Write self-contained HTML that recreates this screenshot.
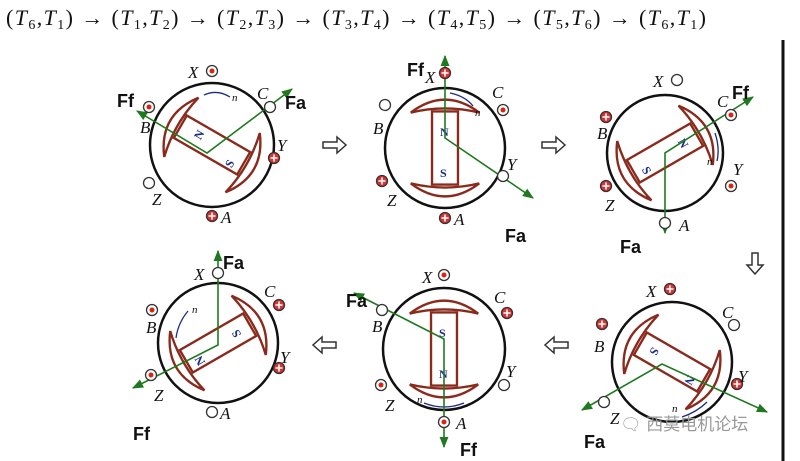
<!DOCTYPE html>
<html><head><meta charset="utf-8"><style>
html,body{margin:0;padding:0;background:#fff;}
svg{display:block;}
.lb{font-family:"Liberation Serif",serif;font-style:italic;font-size:17px;fill:#111;}
.F{font-family:"Liberation Sans",sans-serif;font-weight:bold;font-size:18px;fill:#111;}
.ns{font-family:"Liberation Serif",serif;font-weight:bold;font-size:12px;fill:#1a2a8a;}
.n{font-family:"Liberation Serif",serif;font-style:italic;font-size:11px;fill:#111;}
</style></head><body>
<svg width="800" height="461" viewBox="0 0 800 461" xmlns="http://www.w3.org/2000/svg">
<defs>
<marker id="ar" viewBox="0 0 10 10" refX="9" refY="5" markerWidth="7" markerHeight="7" orient="auto-start-reverse"><path d="M0,1 L10,5 L0,9 Z" fill="#1f7a1f"/></marker>
<g id="rotor0" fill="#fff" stroke="#8a2a1c" stroke-width="2">
<rect x="-11" y="-31" width="22" height="62"/>
<path d="M-29,-30 Q0,-52 29,-30 Q0,-37 -29,-30 Z"/>
<path d="M-29,30 Q0,52 29,30 Q0,37 -29,30 Z"/>
</g>
<g id="rotor"><use href="#rotor0" transform="scale(1.18)"/></g>
<g id="dot"><circle r="5.5" fill="#fff" stroke="#333" stroke-width="1.3"/><circle r="2.5" fill="#d21"/></g>
<g id="crs"><circle r="5.5" fill="#d33" stroke="#333" stroke-width="1.3"/><path d="M-3.5,0H3.5M0,-3.5V3.5" stroke="#fff" stroke-width="1.6"/></g>
<g id="emp"><circle r="5.5" fill="#fff" stroke="#333" stroke-width="1.3"/></g>
</defs>

<text x="6" y="25" textLength="700" lengthAdjust="spacing" style="font-family:'Liberation Serif',serif;font-size:22px;fill:#111">(<tspan font-style="italic">T</tspan><tspan font-size="14" dy="4">6</tspan><tspan dy="-4">,</tspan><tspan font-style="italic">T</tspan><tspan font-size="14" dy="4">1</tspan><tspan dy="-4">) → (</tspan><tspan font-style="italic">T</tspan><tspan font-size="14" dy="4">1</tspan><tspan dy="-4">,</tspan><tspan font-style="italic">T</tspan><tspan font-size="14" dy="4">2</tspan><tspan dy="-4">) → (</tspan><tspan font-style="italic">T</tspan><tspan font-size="14" dy="4">2</tspan><tspan dy="-4">,</tspan><tspan font-style="italic">T</tspan><tspan font-size="14" dy="4">3</tspan><tspan dy="-4">) → (</tspan><tspan font-style="italic">T</tspan><tspan font-size="14" dy="4">3</tspan><tspan dy="-4">,</tspan><tspan font-style="italic">T</tspan><tspan font-size="14" dy="4">4</tspan><tspan dy="-4">) → (</tspan><tspan font-style="italic">T</tspan><tspan font-size="14" dy="4">4</tspan><tspan dy="-4">,</tspan><tspan font-style="italic">T</tspan><tspan font-size="14" dy="4">5</tspan><tspan dy="-4">) → (</tspan><tspan font-style="italic">T</tspan><tspan font-size="14" dy="4">5</tspan><tspan dy="-4">,</tspan><tspan font-style="italic">T</tspan><tspan font-size="14" dy="4">6</tspan><tspan dy="-4">) → (</tspan><tspan font-style="italic">T</tspan><tspan font-size="14" dy="4">6</tspan><tspan dy="-4">,</tspan><tspan font-style="italic">T</tspan><tspan font-size="14" dy="4">1</tspan><tspan dy="-4">)</tspan></text>

<line x1="783" y1="40" x2="783" y2="461" stroke="#111" stroke-width="3"/>

<g fill="#fff" stroke="#333" stroke-width="1.5">
<path d="M323,142 h14 v-5 l9,8 l-9,8 v-5 h-14 z"/>
<path d="M542,142 h14 v-5 l9,8 l-9,8 v-5 h-14 z"/>
<path d="M752,253 v12 h-5 l8,9 l8,-9 h-5 v-12 z"/>
<path d="M568,342 h-14 v-5 l-9,8 l9,8 v-5 h14 z"/>
<path d="M336,342 h-14 v-5 l-9,8 l9,8 v-5 h14 z"/>
</g>

<!-- Motor 1 -->
<g transform="translate(212,145)">
<circle r="62" fill="none" stroke="#111" stroke-width="2.5"/>
<use href="#rotor" transform="rotate(-60)"/>
<text class="ns" x="-17" y="-6" transform="rotate(-60 -13 -10)">N</text>
<text class="ns" x="14" y="22" transform="rotate(-60 18 18)">S</text>
<path d="M-8,-50 Q5,-56 18,-48" fill="none" stroke="#1a2a8a" stroke-width="1.3"/>
<text class="n" x="20" y="-44">n</text>
<polyline points="-75,-34 -5,8 80,-56" fill="none" stroke="#1f7a1f" stroke-width="1.6" marker-start="url(#ar)" marker-end="url(#ar)"/>
<use href="#dot" x="0" y="-74"/><text class="lb" x="-24" y="-67">X</text>
<use href="#emp" x="58" y="-38"/><text class="lb" x="45" y="-46">C</text>
<use href="#crs" x="62" y="13"/><text class="lb" x="65" y="6">Y</text>
<use href="#crs" x="0" y="71"/><text class="lb" x="9" y="78">A</text>
<use href="#emp" x="-63" y="38"/><text class="lb" x="-60" y="60">Z</text>
<use href="#dot" x="-63" y="-38"/><text class="lb" x="-72" y="-12">B</text>
<text class="F" x="-95" y="-38">Ff</text><text class="F" x="73" y="-36">Fa</text>
</g>

<!-- Motor 2 -->
<g transform="translate(445,148)">
<circle r="60" fill="none" stroke="#111" stroke-width="2.5"/>
<use href="#rotor"/>
<text class="ns" x="-5" y="-12">N</text><text class="ns" x="-5" y="29">S</text>
<path d="M5,-55 Q20,-52 28,-42" fill="none" stroke="#1a2a8a" stroke-width="1.3"/>
<text class="n" x="30" y="-32">n</text>
<polyline points="0,-92 0,-10 88,50" fill="none" stroke="#1f7a1f" stroke-width="1.6" marker-start="url(#ar)" marker-end="url(#ar)"/>
<use href="#crs" x="0" y="-75"/><text class="lb" x="-20" y="-65">X</text>
<use href="#dot" x="58" y="-38"/><text class="lb" x="47" y="-50">C</text>
<use href="#emp" x="58" y="28"/><text class="lb" x="62" y="22">Y</text>
<use href="#crs" x="0" y="70"/><text class="lb" x="9" y="77">A</text>
<use href="#crs" x="-63" y="33"/><text class="lb" x="-58" y="58">Z</text>
<use href="#emp" x="-60" y="-43"/><text class="lb" x="-72" y="-14">B</text>
<text class="F" x="-38" y="-72">Ff</text><text class="F" x="60" y="94">Fa</text>
</g>

<!-- Motor 3 -->
<g transform="translate(665,153)">
<circle r="58" fill="none" stroke="#111" stroke-width="2.5"/>
<use href="#rotor" transform="rotate(60)"/>
<text class="ns" x="14" y="-6" transform="rotate(60 18 -10)">N</text>
<text class="ns" x="-22" y="22" transform="rotate(60 -18 18)">S</text>
<path d="M50,-20 Q55,-5 52,8" fill="none" stroke="#1a2a8a" stroke-width="1.3"/>
<text class="n" x="42" y="12">n</text>
<polyline points="88,-56 0,0 0,80" fill="none" stroke="#1f7a1f" stroke-width="1.6" marker-start="url(#ar)" marker-end="url(#ar)"/>
<use href="#emp" x="12" y="-73"/><text class="lb" x="-12" y="-66">X</text>
<use href="#dot" x="66" y="-38"/><text class="lb" x="52" y="-46">C</text>
<use href="#dot" x="66" y="33"/><text class="lb" x="68" y="22">Y</text>
<use href="#emp" x="0" y="70"/><text class="lb" x="14" y="78">A</text>
<use href="#crs" x="-59" y="33"/><text class="lb" x="-60" y="58">Z</text>
<use href="#crs" x="-59" y="-36"/><text class="lb" x="-68" y="-14">B</text>
<text class="F" x="67" y="-54">Ff</text><text class="F" x="-45" y="100">Fa</text>
</g>

<!-- Motor 4 -->
<g transform="translate(672,362)">
<circle r="60" fill="none" stroke="#111" stroke-width="2.5"/>
<use href="#rotor" transform="rotate(120)"/>
<text class="ns" x="-22" y="-6" transform="rotate(120 -18 -10)">S</text>
<text class="ns" x="14" y="22" transform="rotate(120 18 18)">N</text>
<path d="M35,40 Q25,50 10,55" fill="none" stroke="#1a2a8a" stroke-width="1.3"/>
<text class="n" x="0" y="50">n</text>
<polyline points="-90,48 -10,2 95,50" fill="none" stroke="#1f7a1f" stroke-width="1.6" marker-start="url(#ar)" marker-end="url(#ar)"/>
<use href="#crs" x="-2" y="-73"/><text class="lb" x="-26" y="-65">X</text>
<use href="#emp" x="62" y="-37"/><text class="lb" x="50" y="-44">C</text>
<use href="#crs" x="65" y="22"/><text class="lb" x="66" y="20">Y</text>
<use href="#crs" x="-70" y="-38"/><text class="lb" x="-78" y="-10">B</text>
<use href="#emp" x="-68" y="40"/><text class="lb" x="-62" y="62">Z</text>
<text class="F" x="-88" y="86">Fa</text>
</g>
<text x="620" y="430" style="font-family:'Liberation Sans','Noto Sans CJK SC',sans-serif;font-size:17px;fill:#999">🗨 西莫电机论坛</text>

<!-- Motor 5 -->
<g transform="translate(444,349)">
<circle r="61" fill="none" stroke="#111" stroke-width="2.5"/>
<use href="#rotor"/>
<text class="ns" x="-5" y="-12">S</text><text class="ns" x="-5" y="29">N</text>
<path d="M-20,54 Q0,62 20,54" fill="none" stroke="#1a2a8a" stroke-width="1.3"/>
<text class="n" x="-27" y="54">n</text>
<polyline points="-90,-56 0,-10 0,98" fill="none" stroke="#1f7a1f" stroke-width="1.6" marker-start="url(#ar)" marker-end="url(#ar)"/>
<use href="#dot" x="0" y="-74"/><text class="lb" x="-22" y="-66">X</text>
<use href="#crs" x="63" y="-36"/><text class="lb" x="50" y="-46">C</text>
<use href="#emp" x="60" y="36"/><text class="lb" x="62" y="28">Y</text>
<use href="#dot" x="0" y="73"/><text class="lb" x="12" y="80">A</text>
<use href="#dot" x="-63" y="36"/><text class="lb" x="-59" y="62">Z</text>
<use href="#emp" x="-62" y="-39"/><text class="lb" x="-72" y="-17">B</text>
<text class="F" x="-98" y="-42">Fa</text><text class="F" x="16" y="107">Ff</text>
</g>

<!-- Motor 6 -->
<g transform="translate(218,343)">
<circle r="60" fill="none" stroke="#111" stroke-width="2.5"/>
<use href="#rotor" transform="rotate(-120)"/>
<text class="ns" x="14" y="-6" transform="rotate(-120 18 -10)">S</text>
<text class="ns" x="-22" y="22" transform="rotate(-120 -18 18)">N</text>
<path d="M-42,-5 Q-40,-20 -30,-32" fill="none" stroke="#1a2a8a" stroke-width="1.3"/>
<text class="n" x="-26" y="-30">n</text>
<polyline points="0,-92 0,2 -85,45" fill="none" stroke="#1f7a1f" stroke-width="1.6" marker-start="url(#ar)" marker-end="url(#ar)"/>
<use href="#emp" x="0" y="-70"/><text class="lb" x="-24" y="-63">X</text>
<use href="#crs" x="61" y="-38"/><text class="lb" x="46" y="-46">C</text>
<use href="#crs" x="61" y="25"/><text class="lb" x="62" y="20">Y</text>
<use href="#emp" x="-6" y="69"/><text class="lb" x="2" y="76">A</text>
<use href="#dot" x="-67" y="32"/><text class="lb" x="-64" y="58">Z</text>
<use href="#dot" x="-66" y="-33"/><text class="lb" x="-72" y="-10">B</text>
<text class="F" x="5" y="-74">Fa</text><text class="F" x="-85" y="97">Ff</text>
</g>
</svg>
</body></html>
